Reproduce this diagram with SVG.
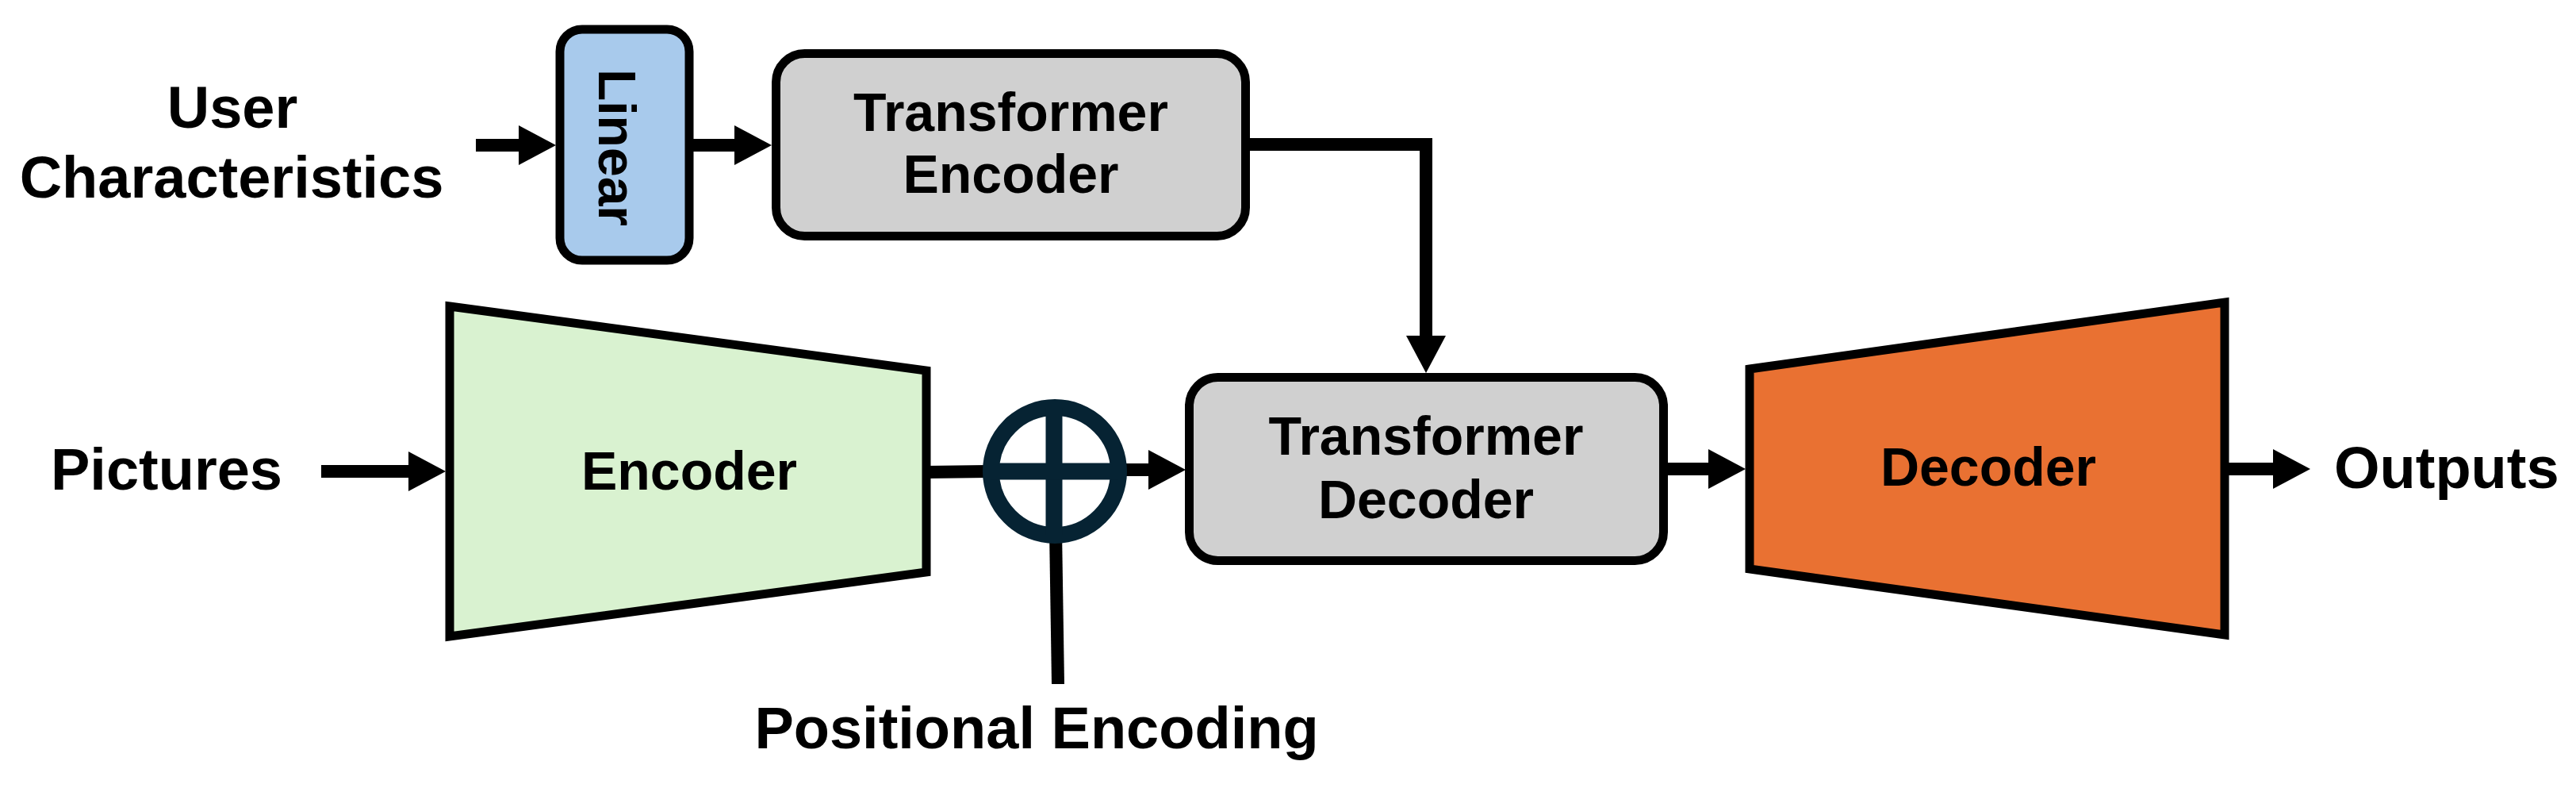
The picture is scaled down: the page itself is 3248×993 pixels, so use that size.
<svg xmlns="http://www.w3.org/2000/svg" width="3248" height="993" viewBox="0 0 3248 993">
  <defs>
    <marker id="ah" markerUnits="userSpaceOnUse" markerWidth="48" markerHeight="52" refX="0" refY="26" orient="auto">
      <path d="M0,1 L47,26 L0,51 Z" fill="#000"/>
    </marker>
    <style>
      .lbl { font-family: "Liberation Sans", Arial, sans-serif; font-weight: bold; fill: #000; }
      .out { font-size: 74px; }
      .in { font-size: 68px; }
      .box { stroke: #000; stroke-width: 11; }
      .conn { fill: none; stroke: #000; stroke-width: 16; }
    </style>
  </defs>
  <rect width="3248" height="993" fill="#ffffff"/>

  <g id="connectors">
    <path class="conn" d="M600,183 H654" marker-end="url(#ah)"/>
    <path class="conn" d="M872,183 H926" marker-end="url(#ah)"/>
    <path class="conn" d="M1572,182 H1798 V423" marker-end="url(#ah)" stroke-linejoin="miter"/>
    <path class="conn" d="M405,594 H515" marker-end="url(#ah)"/>
    <path class="conn" d="M1168,595 L1245,594"/>
    <path class="conn" d="M1415,592 H1448" marker-end="url(#ah)"/>
    <path class="conn" d="M2100,591 H2154" marker-end="url(#ah)"/>
    <path class="conn" d="M2808,591 H2866" marker-end="url(#ah)"/>
    <path class="conn" d="M1331,668 L1334,862"/>
  </g>

  <g id="user-characteristics">
    <text class="lbl out" x="293" y="161" text-anchor="middle">User</text>
    <text class="lbl out" x="292" y="249" text-anchor="middle">Characteristics</text>
  </g>

  <g id="linear">
    <rect class="box" x="706" y="37" width="163" height="291" rx="28" fill="#a8caec"/>
    <text class="lbl" x="755" y="186" font-size="66" text-anchor="middle" transform="rotate(90 755 186)">Linear</text>
  </g>

  <g id="transformer-encoder">
    <rect class="box" x="978.5" y="67.5" width="592" height="230" rx="36" fill="#d0d0d0"/>
    <text class="lbl in" x="1274.5" y="165" text-anchor="middle">Transformer</text>
    <text class="lbl in" x="1274.5" y="243" text-anchor="middle">Encoder</text>
  </g>

  <g id="pictures">
    <text class="lbl out" x="210" y="617" text-anchor="middle">Pictures</text>
  </g>

  <g id="encoder">
    <polygon class="box" points="567,386 1168,467 1168,721 567,802" fill="#d9f2d0" stroke-linejoin="miter"/>
    <text class="lbl in" x="869" y="617" text-anchor="middle">Encoder</text>
  </g>

  <g id="add">
    <circle cx="1330" cy="594" r="80.5" fill="#ffffff" stroke="#062333" stroke-width="21"/>
    <line x1="1329" y1="514" x2="1329" y2="674" stroke="#062333" stroke-width="21"/>
    <line x1="1250" y1="594" x2="1410" y2="594" stroke="#062333" stroke-width="21"/>
  </g>

  <g id="positional-encoding">
    <text class="lbl out" x="1307" y="943" text-anchor="middle">Positional Encoding</text>
  </g>

  <g id="transformer-decoder">
    <rect class="box" x="1499.5" y="475.5" width="598" height="231" rx="36" fill="#d0d0d0"/>
    <text class="lbl in" x="1798" y="573" text-anchor="middle">Transformer</text>
    <text class="lbl in" x="1798" y="653" text-anchor="middle">Decoder</text>
  </g>

  <g id="decoder">
    <polygon class="box" points="2206,465 2805,381 2805,800 2206,717" fill="#e97132" stroke-linejoin="miter"/>
    <text class="lbl in" x="2507" y="612" text-anchor="middle">Decoder</text>
  </g>

  <g id="outputs">
    <text class="lbl out" x="2943" y="615">Outputs</text>
  </g>
</svg>
